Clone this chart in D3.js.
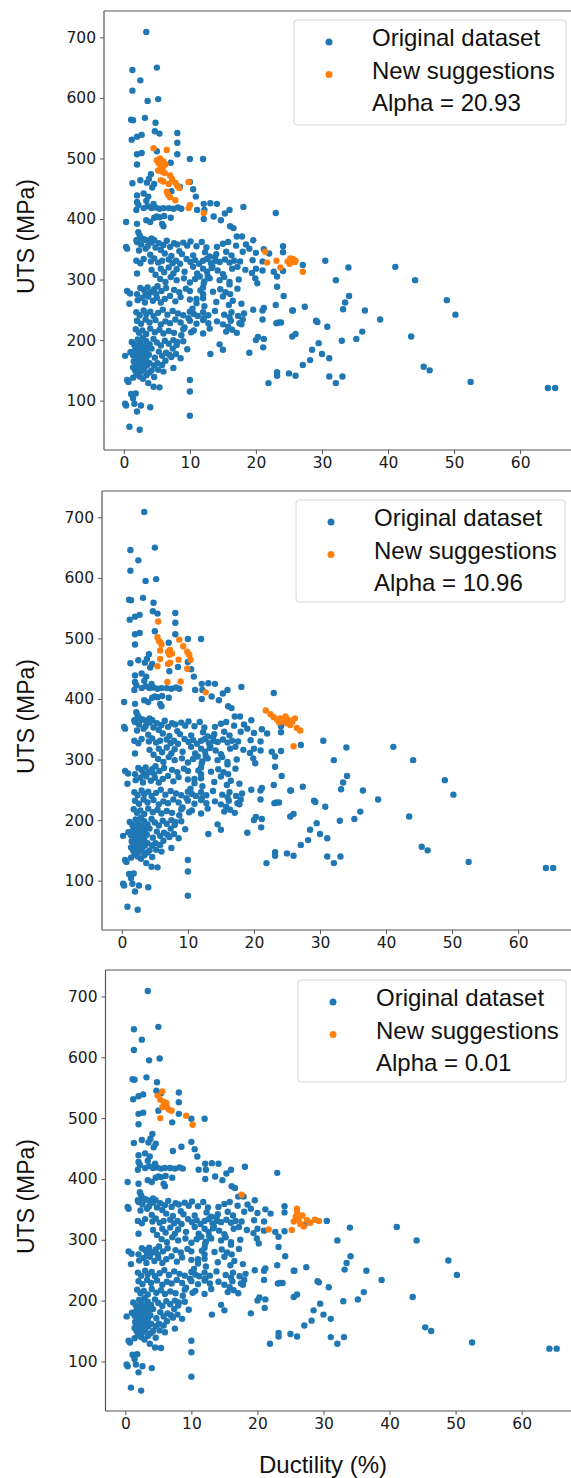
<!DOCTYPE html>
<html><head><meta charset="utf-8">
<script src="https://cdn.jsdelivr.net/npm/d3@7"></script>
<style>html,body{margin:0;padding:0;background:#fff;}svg{display:block;}</style>
</head><body>
<svg id="chart" width="571" height="1478"></svg>
<script>
// ---- data ----
const xTicks = [0, 10, 20, 30, 40, 50, 60];
const yTicks = [100, 200, 300, 400, 500, 600, 700];
const alphaLabels = ["Alpha = 20.93", "Alpha = 10.96", "Alpha = 0.01"];
const seriesNames = ["Original dataset", "New suggestions"];

// Original dataset: [ductility %, UTS MPa]
const originalHigh = [[3.4,709],[1.3,646],[5.0,650],[2.5,629],[1.3,612],[5.2,598],[3.6,595],[1.1,564],[1.4,563],[3.2,567],[4.8,559],[4.7,545],[5.4,541],[8.1,542],[1.2,531],[2.0,536],[2.7,539],[8.1,526],[2.0,507],[2.7,509],[5.0,512],[8.1,507],[2.0,490],[7.1,493],[10.0,499],[12.0,499],[1.3,459],[4.1,474],[2.5,464],[3.5,460],[4.6,458],[3.8,466],[4.3,452],[2.0,439],[3.0,442],[3.7,437],[10.0,461],[10.5,449],[10.9,437],[7.2,446],[8.5,453],[2.0,428],[2.2,423],[1.9,415],[3.0,418],[3.6,421],[4.2,418],[4.8,419],[5.4,417],[6.0,418],[6.8,418],[7.5,417],[8.2,419],[8.7,417],[4.5,425],[3.4,430],[12.1,425],[12.2,415],[13.1,426],[14.1,425],[12.1,400],[11.1,415],[13.6,404],[14.7,398],[15.3,409],[16.0,415],[18.1,420],[23.0,410],[0.35,395],[2.0,392],[3.4,398],[4.0,395],[4.6,402],[5.0,404],[5.4,403],[6.1,405],[6.0,388],[5.8,392],[7.1,402],[16.1,388],[16.6,385],[17.1,371],[17.9,371],[19.6,365],[2.2,378],[2.4,373],[2.7,368],[3.2,366],[3.7,364],[4.2,368],[4.6,365],[1.9,365],[0.35,354],[0.5,351]];
const originalMid = [[2.0,362],[2.6,358],[3.1,366],[3.6,355],[4.2,361],[4.8,353],[5.3,360],[6.0,357],[6.5,364],[7.0,354],[7.6,360],[8.1,358],[9.0,361],[9.6,356],[10.1,363],[11.0,355],[11.8,362],[12.5,353],[14.1,354],[15.0,359],[15.8,362],[17.0,356],[18.5,358],[19.0,351],[21.2,350],[24.1,355],[2.3,348],[3.3,351],[5.6,349],[8.4,347],
[1.9,331],[2.5,327],[3.0,334],[4.1,330],[4.6,335],[5.2,328],[5.8,331],[6.8,333],[7.4,327],[7.9,331],[8.5,326],[9.5,334],[10.1,329],[10.8,332],[11.4,326],[12.0,331],[12.6,334],[13.2,327],[13.9,331],[14.5,329],[15.3,333],[16.0,328],[16.7,331],[17.6,330],[19.5,332],[21.0,330],
[4.0,341],[6.2,343],[7.2,339],[8.8,342],[10.5,340],[12.3,345],[13.0,338],[14.0,342],[15.5,346],[16.3,340],[18.0,346],[20.0,344],[22.0,343],
[2.0,310],[4.2,316],[4.8,308],[5.6,318],[6.1,312],[6.8,320],[7.5,310],[8.0,317],[9.2,313],[10.5,321],[11.1,310],[12.0,318],[12.6,313],[13.4,322],[14.2,315],[15.0,309],[16.4,318],[17.2,321],[18.4,316],[19.4,311],[20.0,318],[21.0,315],[22.7,313],[24.1,314],
[5.5,301],[6.3,296],[7.1,304],[8.0,299],[9.1,302],[10.0,295],[10.8,301],[11.5,305],[12.2,297],[13.0,302],[14.5,299],[15.2,304],[16.0,296],[17.4,300],[19.9,302],[23.2,305],[20.2,294],
[0.5,281],[0.95,277],[2.0,276],[3.0,283],[3.6,287],[4.1,279],[4.6,284],[5.1,289],[5.7,281],[6.4,286],[7.6,283],[8.4,279],[9.4,285],[10.0,281],[12.0,287],[13.5,280],[14.6,284],[15.4,279],[17.2,285],[23.2,288],[3.3,277],[4.9,276],[2.5,286],
[0.85,260],[2.1,266],[2.8,270],[3.2,262],[3.7,272],[4.4,265],[5.0,270],[5.6,262],[6.2,268],[7.0,273],[7.8,264],[8.6,271],[10.0,267],[11.0,261],[12.0,269],[14.0,263],[15.0,272],[16.5,265],[17.8,260],[23.0,258],[24.2,273],
[1.9,246],[2.4,241],[3.0,249],[3.4,243],[4.0,247],[4.5,240],[5.2,245],[5.9,250],[6.6,242],[7.4,248],[8.2,244],[9.0,241],[10.0,247],[10.6,243],[11.2,240],[12.0,246],[12.8,241],[13.8,248],[15.2,242],[16.3,246],[17.3,240],[19.6,250],[21.0,249],[21.2,253],[25.6,249],
[2.0,232],[2.6,227],[3.3,234],[3.9,229],[4.8,233],[5.6,226],[6.3,231],[7.0,228],[7.8,234],[8.6,229],[10.0,232],[11.0,227],[12.0,233],[12.8,228],[14.1,231],[15.0,226],[16.2,232],[17.5,228],[18.0,234],[21.0,234],[23.1,228],[23.4,229],[23.8,229],[29.1,232],[29.3,230],
[1.8,218],[2.3,212],[2.8,216],[3.4,210],[4.0,219],[4.7,213],[5.4,217],[6.0,211],[6.8,215],[7.6,212],[9.0,218],[10.2,213],[10.6,216],[12.0,211],[13.0,219],[15.5,214],[16.4,217],[17.1,212],[20.0,200],[20.3,205],[21.2,202],[25.5,206],[26.0,210],
[1.2,197],[1.6,192],[2.1,201],[2.5,195],[2.9,204],[3.4,198],[3.9,193],[4.5,202],[5.0,196],[5.6,191],[6.2,199],[6.8,194],[7.5,200],[8.0,192],[9.0,198],[9.6,185],[14.5,193],[21.1,188],
[0.2,174],[1.0,180],[1.4,175],[1.8,185],[2.2,178],[2.6,183],[3.0,172],[3.4,180],[3.8,176],[4.2,186],[4.7,171],[5.3,181],[5.8,174],[6.4,179],[7.2,172],[7.9,177],[8.6,170],[13.1,177],[15.0,184],[19.0,179],
[1.5,165],[1.9,170],[2.3,168],[2.7,160],[3.1,165],[3.5,158],[3.9,162],[2.0,158],[2.5,175],[3.3,188],[2.9,190],[1.7,150],[2.2,155],[2.6,148],[3.0,152],[3.6,145],[4.2,150],[4.6,158],[5.1,162],
[1.6,182],[2.0,188],[2.4,163],[2.8,178],[3.2,157],[1.8,160],[2.1,146],[2.6,153],[3.4,170],[1.4,155],[2.9,168],[3.7,186],
[0.5,134],[0.7,131],[1.4,138],[1.9,143],[2.4,140],[2.9,136],[3.4,142],[3.9,147],[4.6,139],[6.0,148],[7.5,154],
[5.2,151],[5.8,159],[6.3,166],[6.9,176],[7.4,186],[8.1,197],[8.7,208],[9.2,221],[9.8,236],[10.4,252],[11.0,268],[11.6,282],[12.1,294],[12.7,306],[13.3,319],[13.8,337],
[12.1,236],[12.2,256],[12.0,276],[15.8,222],[16.0,238],[15.9,258],[16.1,276],[16.0,292],[17.8,226],[18.2,244]];
const originalLow = [[3.7,129],[4.5,123],[5.4,122],[10.0,134],[10.0,115],[10.0,75],[1.1,111],[1.4,104],[1.8,112],[0.2,95],[0.35,92],[1.6,95],[2.0,82],[2.6,92],[4.0,89],[0.85,57],[2.4,52]];
const originalRight = [[24.1,345],[27.1,324],[30.5,331],[34.0,320],[32.1,299],[41.1,321],[44.1,299],[34.1,273],[33.5,262],[33.2,251],[25.5,249],[27.4,255],[36.5,249],[48.9,266],[50.2,242],[38.8,234],[30.8,222],[36.1,214],[35.2,202],[33.0,199],[43.5,206],[29.5,195],[28.5,184],[30.0,177],[31.1,170],[28.2,167],[27.1,159],[45.4,156],[46.3,150],[25.0,145],[26.0,141],[31.1,140],[33.1,140],[32.1,129],[52.5,131],[64.2,121],[65.3,121],[21.9,129],[23.2,147],[23.2,141]];

// New suggestions for each alpha
const suggestions1 = [[4.5,517],[6.5,514],[5.0,497],[5.3,492],[5.6,488],[5.9,485],[5.5,500],[6.0,495],[6.3,490],[5.8,478],[5.2,480],[6.2,476],[7.0,472],[7.3,466],[7.8,460],[8.1,455],[8.4,451],[6.8,458],[6.0,462],[5.6,464],[9.8,461],[6.7,440],[7.0,436],[6.5,445],[7.8,431],[9.8,418],[10.0,423],[12.1,410],[21.4,346],[21.7,328],[23.1,331],[23.7,320],[25.2,335],[25.5,332],[25.9,329],[24.8,330],[25.1,326],[25.6,334],[26.0,331],[25.3,328],[27.1,313]];
const suggestions2 = [[5.5,528],[5.4,502],[5.8,494],[6.0,490],[5.6,496],[7.0,478],[7.3,481],[7.6,475],[7.2,473],[5.8,480],[5.8,466],[7.3,460],[7.0,458],[5.4,454],[8.6,465],[8.7,498],[9.3,487],[9.9,478],[10.2,473],[10.4,465],[9.9,450],[6.9,428],[8.9,429],[12.7,411],[21.8,381],[22.5,375],[23.0,370],[23.5,366],[24.0,368],[24.5,363],[25.0,360],[25.3,365],[25.8,362],[26.2,368],[24.8,371],[23.8,361],[25.5,357],[26.5,352],[27.0,348],[26.0,322]];
const suggestions3 = [[4.9,537],[5.6,544],[5.3,530],[5.8,527],[6.0,522],[6.3,518],[6.6,514],[7.0,512],[5.6,518],[6.2,525],[5.3,500],[9.2,504],[10.2,489],[17.6,374],[21.7,317],[25.2,316],[25.5,330],[25.8,338],[26.0,345],[26.2,333],[26.5,326],[26.8,340],[27.0,322],[27.5,332],[28.0,328],[28.7,333],[29.3,331],[26.0,351]];

const suggestionsByPanel = [suggestions1, suggestions2, suggestions3];
const original = originalHigh.concat(originalMid, originalLow, originalRight);

// ---- layout ----
const panels = [
  {x0:104, x1:573, y0:450, y1:11, legend:{x:294, y:20, w:272, h:105}},
  {x0:102, x1:571, y0:930, y1:491, legend:{x:296, y:500, w:269, h:102}},
  {x0:105.5, x1:574.5, y0:1411, y1:970, legend:{x:298, y:980, w:268, h:102}}
];
const blue = "#1f77b4", orange = "#ff7f0e";
const svg = d3.select("#chart");
const tickFont = "'DejaVu Sans', sans-serif";
const labelFont = "'Liberation Sans', Arial, sans-serif";

panels.forEach((p, i) => {
  const x = d3.scaleLinear().domain([-3, 68]).range([p.x0, p.x1]);
  const y = d3.scaleLinear().domain([18.5, 743.5]).range([p.y0, p.y1]);
  const g = svg.append("g");

  g.append("line").attr("x1", p.x0).attr("x2", p.x1).attr("y1", p.y1).attr("y2", p.y1)
    .attr("stroke", "#555").attr("stroke-width", 1.2);

  const xa = g.append("g").attr("transform", `translate(0,${p.y0})`)
    .call(d3.axisBottom(x).tickValues(xTicks).tickSize(4).tickPadding(3));
  const ya = g.append("g").attr("transform", `translate(${p.x0},0)`)
    .call(d3.axisLeft(y).tickValues(yTicks).tickSize(4).tickPadding(4));
  [xa, ya].forEach(a => {
    a.select(".domain").attr("stroke", "#555").attr("stroke-width", 1.2);
    a.selectAll(".tick line").attr("stroke", "#555");
    a.selectAll(".tick text").attr("font-family", tickFont).attr("font-size", 15.5).attr("fill", "#1a1a1a");
  });
  xa.select(".domain").attr("d", `M${p.x0},0H${p.x1}`);
  ya.select(".domain").attr("d", `M0,${p.y0}V${p.y1}`);

  g.append("g").selectAll("circle").data(original).join("circle")
    .attr("cx", d => x(d[0])).attr("cy", d => y(d[1])).attr("r", 3.2).attr("fill", blue);
  g.append("g").selectAll("circle").data(suggestionsByPanel[i]).join("circle")
    .attr("cx", d => x(d[0])).attr("cy", d => y(d[1])).attr("r", 3.2).attr("fill", orange);

  g.append("text").attr("transform", `translate(34,${(p.y0 + p.y1) / 2 + 6}) rotate(-90)`)
    .attr("text-anchor", "middle").attr("font-family", labelFont).attr("font-size", 23)
    .attr("fill", "#111").text("UTS (MPa)");

  const L = p.legend;
  const lg = g.append("g");
  lg.append("rect").attr("x", L.x).attr("y", L.y).attr("width", L.w).attr("height", L.h)
    .attr("rx", 3).attr("fill", "#fff").attr("fill-opacity", 0.9).attr("stroke", "#d6d6d6");
  const rows = [
    {label: seriesNames[0], color: blue},
    {label: seriesNames[1], color: orange},
    {label: alphaLabels[i], color: null}
  ];
  rows.forEach((r, k) => {
    const by = L.y + 26 + k * 32.5;
    if (r.color) lg.append("circle").attr("cx", L.x + 35).attr("cy", by - 4).attr("r", 3.5).attr("fill", r.color);
    lg.append("text").attr("x", L.x + 78).attr("y", by).attr("font-family", labelFont)
      .attr("font-size", 24).attr("fill", "#111").text(r.label);
  });
});

svg.append("text").attr("x", 323).attr("y", 1473).attr("text-anchor", "middle")
  .attr("font-family", labelFont).attr("font-size", 24).attr("fill", "#111").text("Ductility (%)");
</script>
</body></html>
